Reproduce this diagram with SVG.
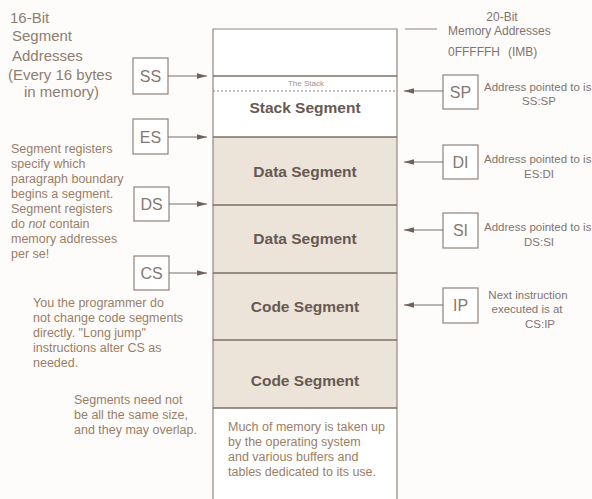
<svg xmlns="http://www.w3.org/2000/svg" width="592" height="499" viewBox="0 0 592 499">
<style>
text{font-family:"Liberation Sans",Arial,Helvetica,sans-serif}
.hdr{font-size:15px;fill:#8e7e70}
.note{font-size:12.5px;fill:#9a7e66}
.reg{font-size:16px;fill:#857870;text-anchor:middle}
.box{fill:#fff;stroke:#8f8279;stroke-width:1.2}
.seg{fill:#ece3d9}
.col{stroke:#94877f;stroke-width:1.2;fill:none}
.div{stroke:#7d6e66;stroke-width:1.6}
.lbl{font-size:15.5px;font-weight:bold;fill:#665a53;text-anchor:middle}
.addr{font-size:11.5px;fill:#807470}
.mid{text-anchor:middle}
.conn{stroke:#7a6e68;stroke-width:1.2;fill:none;marker-end:url(#ah)}
</style>
<defs>
<marker id="ah" markerWidth="11" markerHeight="8" refX="10" refY="4" orient="auto" markerUnits="userSpaceOnUse">
<path d="M0,1.2 L10,4 L0,6.8 z" fill="#6f625c"/>
</marker>
</defs>
<rect width="592" height="499" fill="#fdfcfb"/>

<g id="memory-column">
<rect x="213" y="29" width="184" height="47" fill="#fff"/>
<rect x="213" y="76" width="184" height="61" fill="#fff"/>
<rect class="seg" x="213" y="137" width="184" height="271"/>
<rect x="213" y="408" width="184" height="91" fill="#fff"/>
<path class="col" d="M213,499 V29 H397 V499"/>
<line class="div" x1="213" y1="76" x2="397" y2="76"/>
<line x1="213" y1="91" x2="397" y2="91" stroke="#8d8078" stroke-width="1" stroke-dasharray="2,2"/>
<line class="div" x1="213" y1="137" x2="397" y2="137"/>
<line class="div" x1="213" y1="205" x2="397" y2="205"/>
<line class="div" x1="213" y1="273" x2="397" y2="273"/>
<line class="div" x1="213" y1="340" x2="397" y2="340"/>
<line class="div" x1="213" y1="408" x2="397" y2="408"/>
<text x="306" y="86" class="mid" font-size="8" fill="#a29088">The Stack</text>
<text x="305" y="113" class="lbl">Stack Segment</text>
<text x="305" y="177" class="lbl">Data Segment</text>
<text x="305" y="244" class="lbl">Data Segment</text>
<text x="305" y="312" class="lbl">Code Segment</text>
<text x="305" y="386" class="lbl">Code Segment</text>
<g class="note">
<text x="228" y="431">Much of memory is taken up</text>
<text x="228" y="446">by the operating system</text>
<text x="228" y="461">and various buffers and</text>
<text x="228" y="476">tables dedicated to its use.</text>
</g>
</g>

<g id="left-header" class="hdr">
<text x="10" y="23">16-Bit</text>
<text x="12" y="41">Segment</text>
<text x="12" y="61">Addresses</text>
<text x="8" y="80">(Every 16 bytes</text>
<text x="24" y="97">in memory)</text>
</g>

<g id="right-header" class="addr">
<line x1="405" y1="29" x2="437" y2="29" stroke="#8d8078" stroke-width="1"/>
<text x="502" y="21" class="mid" style="font-size:12px">20-Bit</text>
<text x="448" y="35" style="font-size:12px">Memory Addresses</text>
<text x="448" y="56" style="font-size:12px">0FFFFFH</text>
<text x="508" y="56" style="font-size:12px">(IMB)</text>
</g>

<g id="reg-SS"><rect class="box" x="133" y="58" width="35" height="36"/><text class="reg" x="150.5" y="82">SS</text></g>
<g id="reg-ES"><rect class="box" x="133" y="119" width="35" height="35"/><text class="reg" x="150.5" y="143">ES</text></g>
<g id="reg-DS"><rect class="box" x="134" y="187" width="35" height="34"/><text class="reg" x="151.5" y="210">DS</text></g>
<g id="reg-CS"><rect class="box" x="134" y="256" width="35" height="34"/><text class="reg" x="151.5" y="279">CS</text></g>

<g id="reg-SP"><rect class="box" x="443" y="75" width="35" height="34"/><text class="reg" x="460.5" y="98">SP</text></g>
<g id="reg-DI"><rect class="box" x="443" y="145" width="35" height="34"/><text class="reg" x="460.5" y="168">DI</text></g>
<g id="reg-SI"><rect class="box" x="443" y="213" width="35" height="35"/><text class="reg" x="460.5" y="236">SI</text></g>
<g id="reg-IP"><rect class="box" x="443" y="288" width="35" height="35"/><text class="reg" x="460.5" y="311">IP</text></g>

<g id="note-segregs" class="note">
<text x="11" y="153">Segment registers</text>
<text x="11" y="168">specify which</text>
<text x="11" y="183">paragraph boundary</text>
<text x="11" y="198">begins a segment.</text>
<text x="11" y="213">Segment registers</text>
<text x="11" y="228">do <tspan font-style="italic">not</tspan> contain</text>
<text x="11" y="243">memory addresses</text>
<text x="11" y="258">per se!</text>
</g>

<g id="note-cs" class="note">
<text x="33" y="307">You the programmer do</text>
<text x="33" y="322">not change code segments</text>
<text x="33" y="337">directly. "Long jump"</text>
<text x="33" y="352">instructions alter CS as</text>
<text x="33" y="367">needed.</text>
</g>

<g id="note-size" class="note">
<text x="74" y="404">Segments need not</text>
<text x="74" y="419">be all the same size,</text>
<text x="74" y="434">and they may overlap.</text>
</g>

<g id="label-SP" class="addr"><text x="484" y="91">Address pointed to is</text><text x="539" y="105" class="mid">SS:SP</text></g>
<g id="label-DI" class="addr"><text x="484" y="163">Address pointed to is</text><text x="539" y="178" class="mid">ES:DI</text></g>
<g id="label-SI" class="addr"><text x="484" y="231">Address pointed to is</text><text x="539" y="246" class="mid">DS:SI</text></g>
<g id="label-IP" class="addr"><text x="528" y="299" class="mid">Next instruction</text><text x="527" y="313" class="mid">executed is at</text><text x="540" y="328" class="mid">CS:IP</text></g>

<g id="connectors">
<line class="conn" x1="168" y1="76" x2="207" y2="76"/>
<line class="conn" x1="168" y1="137" x2="207" y2="137"/>
<line class="conn" x1="169" y1="204" x2="207" y2="204"/>
<line class="conn" x1="169" y1="273" x2="207" y2="273"/>
<line class="conn" x1="443" y1="91" x2="404" y2="91"/>
<line class="conn" x1="443" y1="162" x2="404" y2="162"/>
<line class="conn" x1="443" y1="230" x2="404" y2="230"/>
<line class="conn" x1="443" y1="305" x2="404" y2="305"/>
</g>
</svg>
